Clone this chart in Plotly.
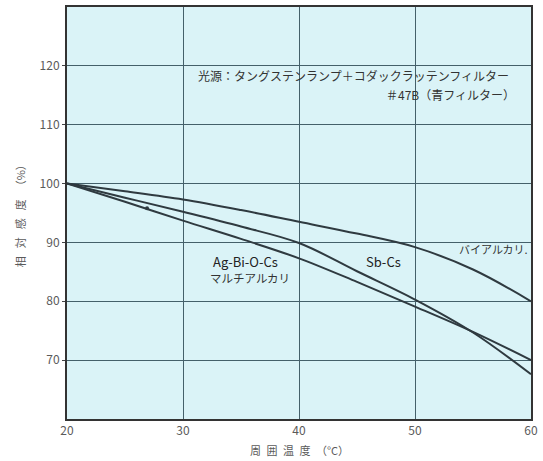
import plotly.graph_objects as go

# Ambient temperature (°C)
temp = [20, 25, 30, 35, 40, 45, 50, 55, 60]

# Relative sensitivity (%) of each photocathode type
bialkali = [100, 98.7, 97.3, 95.5, 93.5, 91.5, 89.2, 85.4, 80.0]
sb_cs = [100, 97.6, 95.2, 92.7, 89.9, 85.1, 80.3, 74.7, 67.6]
ag_bi_o_cs = [100, 96.9, 93.7, 90.6, 87.3, 83.3, 79.1, 74.8, 70.0]

# single plotted point on the multialkali curve
dot_x = [26.9]
dot_y = [95.8]

x_ticks = [20, 30, 40, 50, 60]
y_ticks = [70, 80, 90, 100, 110, 120]

line_color = "#2f3a40"
grid_color = "#44606a"
text_color = "#5a5a5a"
jp_font = "Noto Sans CJK JP"
sp = "\u2002"

fig = go.Figure()
for ys in (bialkali, sb_cs, ag_bi_o_cs):
    fig.add_trace(go.Scatter(
        x=temp, y=ys, mode="lines",
        line=dict(color=line_color, width=2, shape="spline", smoothing=1.0),
        showlegend=False, hoverinfo="skip",
    ))
fig.add_trace(go.Scatter(
    x=dot_x, y=dot_y, mode="markers",
    marker=dict(color=line_color, size=4),
    showlegend=False, hoverinfo="skip",
))

annotations = [
    dict(x=31.1, y=118.3, xanchor="left", yanchor="middle",
         text="光源：タングステンランプ＋コダックラッテンフィルター",
         font=dict(size=12, color="#333333", family=jp_font)),
    dict(x=58.75, y=115.2, xanchor="right", yanchor="middle",
         text="＃47B（青フィルター）",
         font=dict(size=12, color="#333333", family=jp_font)),
    dict(x=59.9, y=88.8, xanchor="right", yanchor="middle",
         text="バイアルカリ.",
         font=dict(size=11, color="#333333", family=jp_font)),
    dict(x=47.25, y=86.8, xanchor="center", yanchor="middle",
         text="Sb-Cs",
         font=dict(size=13, color="#222222", family=jp_font)),
    dict(x=35.4, y=86.8, xanchor="center", yanchor="middle",
         text="Ag-Bi-O-Cs",
         font=dict(size=13, color="#222222", family=jp_font)),
    dict(x=35.8, y=84.0, xanchor="center", yanchor="middle",
         text="マルチアルカリ",
         font=dict(size=11.5, color="#333333", family=jp_font)),
    dict(xref="paper", yref="paper", x=-0.101, y=0.5,
         xanchor="center", yanchor="middle", textangle=-90,
         text=f"相{sp} 対{sp} 感{sp} 度{sp} （%）",
         font=dict(size=11, color=text_color, family=jp_font)),
    dict(xref="paper", yref="paper", x=0.5, y=-0.075,
         xanchor="center", yanchor="middle",
         text=f"周{sp}囲{sp}温{sp}度{sp}（°C）",
         font=dict(size=11, color=text_color, family=jp_font)),
]
for a in annotations:
    a["showarrow"] = False
    fig.add_annotation(**a)

fig.update_xaxes(
    range=[20, 60], tickvals=x_ticks,
    showgrid=True, gridcolor=grid_color, gridwidth=1,
    showline=True, linecolor="#333333", linewidth=2, mirror=True,
    ticks="", zeroline=False,
    tickfont=dict(size=12, color=text_color, family=jp_font),
)
fig.update_yaxes(
    range=[60, 130], tickvals=y_ticks,
    showgrid=True, gridcolor=grid_color, gridwidth=1,
    showline=True, linecolor="#333333", linewidth=2, mirror=True,
    ticks="outside", ticklen=3, tickcolor="#444444", zeroline=False,
    tickfont=dict(size=12, color=text_color, family=jp_font),
)

fig.update_layout(
    width=543, height=461,
    margin=dict(l=67, r=11, t=5, b=42),
    paper_bgcolor="white",
    plot_bgcolor="#daf3f7",
    font=dict(family=jp_font),
)

fig.write_html("out.html")
